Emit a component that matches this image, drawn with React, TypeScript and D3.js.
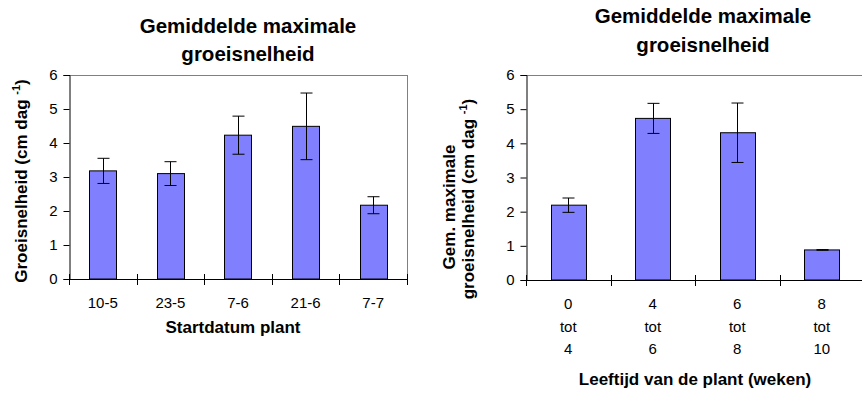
import React, {useEffect, useRef} from 'react';
import * as d3 from 'd3';

const startDates = ['10-5', '23-5', '7-6', '21-6', '7-7'];
const rateByDate = [3.18, 3.1, 4.23, 4.49, 2.17];
const errByDate = [0.37, 0.35, 0.56, 0.98, 0.25];

const ageClasses = ['0 tot 4', '4 tot 6', '6 tot 8', '8 tot 10'];
const rateByAge = [2.19, 4.73, 4.31, 0.88];
const errByAge = [0.21, 0.44, 0.87, 0.01];

const yTicks = [0, 1, 2, 3, 4, 5, 6];

const FONT = 'Liberation Sans, Arial, sans-serif';
const BAR_FILL = '#8080FF';

interface PanelOpts {
    left: number;
    right: number;
    top: number;
    bottom: number;
    categories: string[];
    values: number[];
    errors: number[];
    barRatio: number;
    titleX: number;
    titleY: number[];
    yLabel: string[][];
    yLabelX: number[];
    yLabelY: number[];
    xLabel: string;
    xLabelX: number;
    xLabelY: number;
    tickLineGap: number;
    frameRight: boolean;
}

const App: React.FC = () => {
    const svgRef = useRef<SVGSVGElement | null>(null);

    useEffect(() => {
        document.body.style.margin = '0';
        if (svgRef.current) {
            const svg = d3.select(svgRef.current);
            svg.selectAll('*').remove();
            drawPanel(svg, {
                left: 69, right: 407, top: 75, bottom: 279,
                categories: startDates, values: rateByDate, errors: errByDate,
                barRatio: 0.4,
                titleX: 248, titleY: [33, 61],
                yLabel: [['Groeisnelheid (cm dag ', '-1', ')']],
                yLabelX: [27], yLabelY: [181],
                xLabel: 'Startdatum plant', xLabelX: 233, xLabelY: 333,
                tickLineGap: 0, frameRight: true,
            });
            drawPanel(svg, {
                left: 526, right: 864, top: 75, bottom: 280,
                categories: ageClasses, values: rateByAge, errors: errByAge,
                barRatio: 0.42,
                titleX: 703, titleY: [23, 52],
                yLabel: [['Gem. maximale'], ['groeisnelheid (cm dag ', '-1', ')']],
                yLabelX: [455, 474], yLabelY: [207, 199],
                xLabel: 'Leeftijd van de plant (weken)', xLabelX: 695, xLabelY: 385,
                tickLineGap: 22.5, frameRight: false,
            });
        }
    }, []);

    const drawPanel = (
        svg: d3.Selection<SVGSVGElement, unknown, null, undefined>,
        o: PanelOpts
    ) => {
        const g = svg.append('g');
        const x = d3.scaleBand<string>().domain(o.categories).range([o.left, o.right]);
        const y = d3.scaleLinear().domain([0, 6]).range([o.bottom, o.top]);

        // title
        const title = g.append('text')
            .attr('text-anchor', 'middle')
            .style('font-family', FONT)
            .style('font-weight', 'bold')
            .style('font-size', '20.5px')
            .attr('fill', '#000');
        ['Gemiddelde maximale', 'groeisnelheid'].forEach((t, i) => {
            title.append('tspan').attr('x', o.titleX).attr('y', o.titleY[i]).text(t);
        });

        // frame (top / right)
        g.append('line')
            .attr('x1', o.left).attr('x2', o.right)
            .attr('y1', o.top + 0.5).attr('y2', o.top + 0.5)
            .attr('stroke', '#808080');
        if (o.frameRight) {
            g.append('line')
                .attr('x1', o.right + 0.5).attr('x2', o.right + 0.5)
                .attr('y1', o.top).attr('y2', o.bottom)
                .attr('stroke', '#808080');
        }

        // bars
        const bw = x.bandwidth() * o.barRatio;
        o.categories.forEach((c, i) => {
            const cx = (x(c) as number) + x.bandwidth() / 2;
            g.append('rect')
                .attr('x', Math.round(cx - bw / 2) + 0.5)
                .attr('y', y(o.values[i]))
                .attr('width', Math.round(bw))
                .attr('height', y(0) - y(o.values[i]))
                .attr('fill', BAR_FILL)
                .attr('stroke', '#000')
                .attr('stroke-width', 1);
            const hi = y(o.values[i] + o.errors[i]);
            const lo = y(o.values[i] - o.errors[i]);
            const ex = Math.round(cx) + 0.5;
            g.append('line').attr('x1', ex).attr('x2', ex).attr('y1', hi).attr('y2', lo)
                .attr('stroke', '#000');
            [hi, lo].forEach((yy) => {
                g.append('line').attr('x1', ex - 6).attr('x2', ex + 6).attr('y1', yy).attr('y2', yy)
                    .attr('stroke', '#000');
            });
        });

        // y axis
        const yAxis = g.append('g')
            .attr('transform', `translate(${o.left + 0.5},0)`)
            .call(d3.axisLeft(y).tickValues(yTicks).tickSize(6).tickPadding(6).tickFormat(d3.format('d')));
        yAxis.select('.domain').attr('stroke', '#000');
        yAxis.selectAll('text')
            .style('font-family', FONT).style('font-size', '15px').attr('fill', '#000');

        // x axis line + crossing ticks
        g.append('line')
            .attr('x1', o.left).attr('x2', o.right)
            .attr('y1', o.bottom + 0.5).attr('y2', o.bottom + 0.5)
            .attr('stroke', '#000');
        const bounds = o.categories.map((c) => x(c) as number).concat([o.right]);
        bounds.forEach((bx) => {
            g.append('line')
                .attr('x1', Math.round(bx) + 0.5).attr('x2', Math.round(bx) + 0.5)
                .attr('y1', o.bottom - 5).attr('y2', o.bottom + 6)
                .attr('stroke', '#000');
        });

        // category labels
        o.categories.forEach((c) => {
            const cx = (x(c) as number) + x.bandwidth() / 2;
            const lines = o.tickLineGap > 0 ? c.split(' ') : [c];
            const t = g.append('text')
                .attr('text-anchor', 'middle')
                .style('font-family', FONT).style('font-size', '15px').attr('fill', '#000');
            lines.forEach((l, i) => {
                t.append('tspan').attr('x', cx).attr('y', o.bottom + 29 + i * o.tickLineGap).text(l);
            });
        });

        // x label
        g.append('text')
            .attr('x', o.xLabelX).attr('y', o.xLabelY)
            .attr('text-anchor', 'middle')
            .style('font-family', FONT).style('font-weight', 'bold').style('font-size', '17px')
            .attr('fill', '#000')
            .text(o.xLabel);

        // y label (rotated)
        o.yLabel.forEach((parts, i) => {
            const t = g.append('text')
                .attr('transform', `translate(${o.yLabelX[i]},${o.yLabelY[i]}) rotate(-90)`)
                .attr('text-anchor', 'middle')
                .style('font-family', FONT).style('font-weight', 'bold').style('font-size', '17px')
                .attr('fill', '#000');
            parts.forEach((p, j) => {
                const ts = t.append('tspan').text(p);
                if (j === 1) ts.attr('dy', -7).style('font-size', '11px');
                if (j === 2) ts.attr('dy', 7);
            });
        });
    };

    return <svg ref={svgRef} width={862} height={394} style={{display: 'block', background: '#fff'}}></svg>;
};

export default App;
